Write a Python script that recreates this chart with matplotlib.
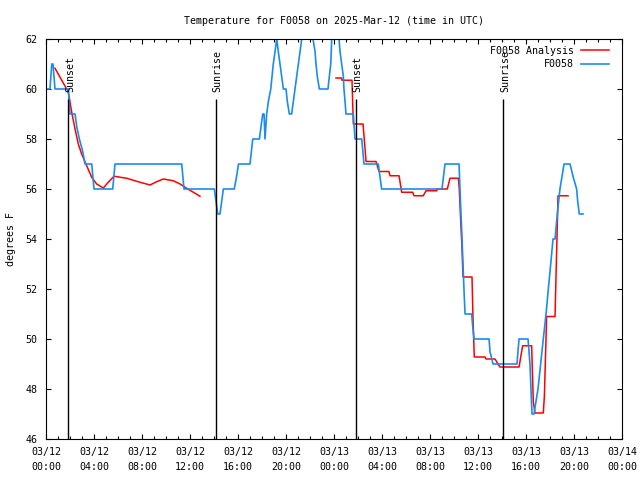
import matplotlib
matplotlib.use("Agg")
import matplotlib.pyplot as plt
import numpy as np

plt.rcParams["font.family"] = ["DejaVu Sans Mono"]
plt.rcParams["font.size"] = 7.2

# horas desde 03/12 00:00 UTC
obs_h = [0.0, 0.33, 0.48, 0.58, 0.75, 1.86, 2.0, 2.42, 2.56, 2.78, 3.06, 3.25, 3.81, 4.0,
         5.56, 5.75, 11.31, 11.5, 14.03, 14.17, 14.31, 14.5, 14.78, 15.69, 15.88, 16.04,
         17.0, 17.23, 17.78, 17.92, 18.06, 18.17, 18.25, 18.39, 18.53, 18.73, 18.94, 19.23,
         19.36, 19.5, 19.78, 20.0, 20.11, 20.28, 20.47, 20.61, 20.75, 21.03, 21.31, 21.5,
         22.08, 22.25, 22.42, 22.5, 22.61, 22.78, 23.5, 23.61, 23.73, 23.81, 23.92, 24.25,
         24.42, 24.5, 24.64, 24.78, 24.83, 24.92, 25.0, 25.61, 25.75, 26.31, 26.5, 27.69,
         27.97, 33.0, 33.25, 34.42, 34.5, 34.58, 34.67, 34.75, 34.83, 34.92, 35.47, 35.56,
         35.67, 36.92, 37.0, 37.25, 39.25, 39.33, 39.42, 40.17, 40.33, 40.5, 40.67, 40.83,
         41.0, 41.22, 41.44, 41.67, 41.86, 42.06, 42.25, 42.42, 42.61, 42.83, 43.17, 43.67,
         43.92, 44.22, 44.31, 44.44, 44.75]
obs_t = [60, 60, 61, 61, 60, 60, 59, 59, 58.5, 58, 57.5, 57, 57, 56,
         56, 57, 57, 56, 56, 55.5, 55, 55, 56, 56, 56.5, 57,
         57, 58, 58, 58.5, 59, 59, 58, 59, 59.5, 60, 61, 62,
         61.5, 61, 60, 60, 59.5, 59, 59, 59.5, 60, 61, 62, 63,
         63, 62, 61.5, 61, 60.5, 60, 60, 60.5, 61, 62, 63, 63,
         62, 61.5, 61, 60.5, 60, 59.5, 59, 59, 58, 58, 57, 57,
         56, 56, 57, 57, 56, 55, 54, 53, 52, 51, 51, 50.5,
         50, 50, 49.5, 49, 49, 49.5, 50, 50, 49, 47, 47, 47.5,
         48, 49, 50, 51, 52, 53, 54, 54, 55, 56, 57, 57,
         56.5, 56, 55.5, 55, 55]

# analise: dois trechos, separados por nan
ana_h = [0.75, 1.86, 2.14, 2.42, 2.69, 2.97, 3.39, 3.81, 4.22, 4.78, 5.19, 5.67, 6.72,
         7.83, 8.67, 9.22, 9.78, 10.61, 11.17, 11.72, 12.28, 12.83, np.nan,
         24.17, 24.64, 24.67, 25.5, 25.61, 26.42, 26.67, 27.5, 27.75, 28.58, 28.67, 29.42,
         29.64, 30.56, 30.67, 31.44, 31.67, 32.56, 32.62, 33.44, 33.67, 34.36, 34.44, 34.58,
         34.67, 34.75, 35.5, 35.58, 35.69, 36.58, 36.67, 37.42, 37.67, 37.83, 39.42, 39.72,
         40.47, 40.61, 40.75, 41.44, 41.53, 41.72, 42.42, 42.5, 42.67, 43.5]
ana_t = [60.83, 59.88, 59.08, 58.4, 57.8, 57.4, 56.93, 56.47, 56.2, 56.04, 56.27, 56.51, 56.43,
         56.27, 56.16, 56.29, 56.4, 56.33, 56.2, 56.03, 55.87, 55.71, np.nan,
         60.44, 60.44, 60.35, 60.35, 58.6, 58.6, 57.1, 57.1, 56.7, 56.7, 56.53, 56.53,
         55.87, 55.87, 55.73, 55.73, 55.93, 55.93, 56.0, 56.0, 56.43, 56.43, 56.0, 54.5,
         53.6, 52.48, 52.48, 50.88, 49.28, 49.28, 49.2, 49.2, 49.0, 48.88, 48.88, 49.73,
         49.73, 47.48, 47.04, 47.04, 47.7, 50.9, 50.9, 52.5, 55.73, 55.73]

eventos = ["Sunset", "Sunrise", "Sunset", "Sunrise"]
eventos_h = [1.86, 14.17, 25.83, 38.11]
topo_linha = 59.6

xticks_h = list(range(0, 49, 4))
xtick_labels = ["03/12\n00:00", "03/12\n04:00", "03/12\n08:00", "03/12\n12:00",
                "03/12\n16:00", "03/12\n20:00", "03/13\n00:00", "03/13\n04:00",
                "03/13\n08:00", "03/13\n12:00", "03/13\n16:00", "03/13\n20:00",
                "03/14\n00:00"]
yticks = list(range(46, 63, 2))

fig = plt.figure(figsize=(6.4, 4.8), dpi=100)
ax = fig.add_axes([46 / 640, 1 - 439 / 480, 576 / 640, 400 / 480])

ax.plot(ana_h, ana_t, color="#ff0000", lw=1.1, label="F0058 Analysis")
ax.plot(obs_h, obs_t, color="#1a8cf0", lw=1.2, label="F0058")

ax.vlines(eventos_h, 46, topo_linha, color="black", lw=1.0)
for nome, h in zip(eventos, eventos_h):
    ax.text(h + 0.14, 59.9, nome, rotation=90, ha="center", va="bottom")

ax.set_xlim(0, 48)
ax.set_ylim(46, 62)
ax.set_xticks(xticks_h)
ax.set_xticklabels(xtick_labels, linespacing=1.55)
ax.set_xticks(range(0, 49), minor=True)
ax.set_yticks(yticks)
ax.tick_params(which="both", direction="in", top=True, right=True)
ax.tick_params(which="major", length=3.6, width=0.8)
ax.tick_params(which="minor", length=2.2, width=0.8)
ax.tick_params(axis="x", pad=6)
ax.tick_params(axis="y", pad=6)

ax.set_title("Temperature for F0058 on 2025-Mar-12 (time in UTC)", fontsize=7.2, pad=10.5)
ax.set_ylabel("degrees F", labelpad=7)

ax.legend(loc="upper right", bbox_to_anchor=(1 - 13 / 576, 1 - 7 / 400), frameon=False,
          markerfirst=False, handlelength=2.8, handletextpad=0.7, labelspacing=0.35,
          borderpad=0.0, borderaxespad=0.0)

fig.savefig("out.png", dpi=100)
